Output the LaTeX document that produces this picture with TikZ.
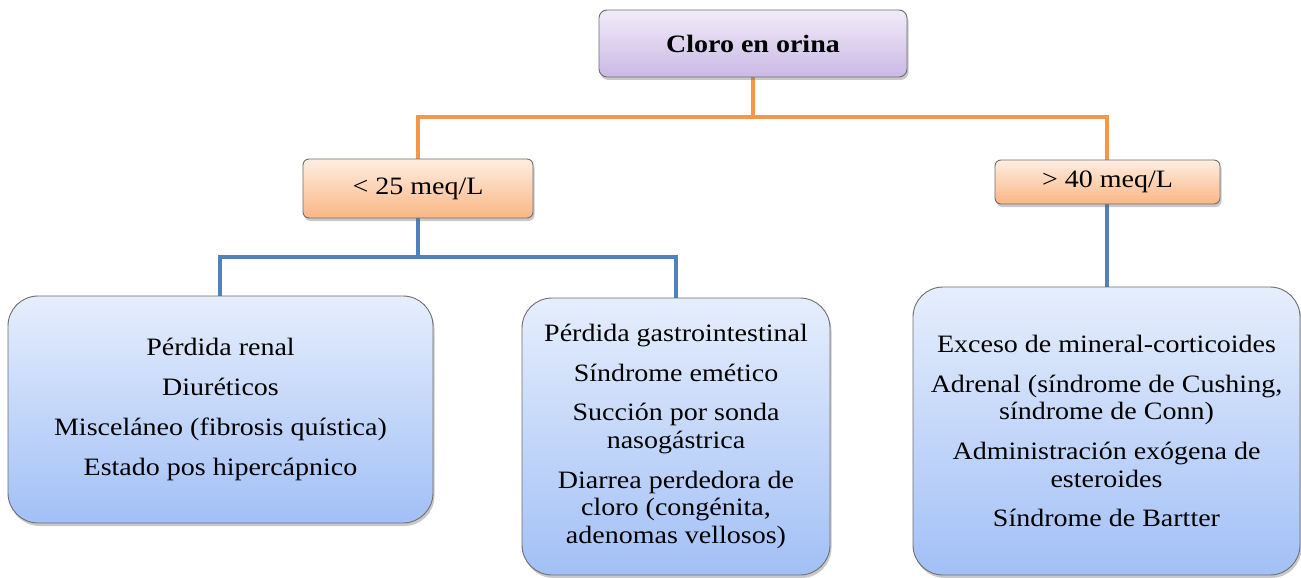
\documentclass[tikz,border=0pt]{standalone}
\usepackage{fontspec}
\setmainfont{Liberation Serif}[FakeStretch=1.12]
\usetikzlibrary{shadows}
\definecolor{oline}{HTML}{F79646}
\definecolor{bline}{HTML}{4F81BD}
\definecolor{pTop}{HTML}{F1ECF8}
\definecolor{pBot}{HTML}{CBB8E6}
\definecolor{oTop}{HTML}{FEEEE2}
\definecolor{oBot}{HTML}{F9B684}
\definecolor{bTop}{HTML}{E6EEFC}
\definecolor{bBot}{HTML}{A2C0F6}
\definecolor{edge}{HTML}{6E6E6E}
\tikzset{
  boxbase/.style={draw=edge, line width=0.9pt, inner sep=0pt, align=center,
    font=\fontsize{25}{27.7}\selectfont,
    drop shadow={shadow xshift=1.5pt, shadow yshift=-3pt, opacity=0.35, fill=black!60}},
  topbox/.style={boxbase, rounded corners=8pt, top color=pTop, bottom color=pBot},
  obox/.style={boxbase, rounded corners=6pt, top color=oTop, bottom color=oBot},
  bbox/.style={boxbase, rounded corners=30pt, top color=bTop, bottom color=bBot},
  oconn/.style={draw=oline, line width=4pt},
  bconn/.style={draw=bline, line width=4pt},
}
\newcommand{\gap}{\\[12pt]}
\begin{document}
\begin{tikzpicture}[x=1pt,y=-1pt]
\useasboundingbox (0,0) rectangle (1301,578);
\clip (0,0) rectangle (1301,578);
\fill[white] (0,0) rectangle (1301,578);
% connectors
\draw[oconn] (753,77) -- (753,117) -| (418,160);
\draw[oconn] (753,117) -| (1107,160);
\draw[bconn] (418,218) -- (418,257) -| (220,296);
\draw[bconn] (418,257) -| (676,298);
\draw[bconn] (1107,204) -- (1107,287);
% boxes
\node[topbox, minimum width=308pt, minimum height=67pt] (top) at (753,43.5) {\textbf{Cloro en orina}};
\node[obox, minimum width=230pt, minimum height=59pt] (lo) at (418,188.5) {< 25 meq/L};
\node[obox, minimum width=225pt, minimum height=44pt] (ro) at (1107.5,182) {> 40 meq/L};
\node[bbox, minimum width=425pt, minimum height=227pt] (b1) at (220.5,409.5)
  {Pérdida renal\gap Diuréticos\gap Misceláneo (fibrosis quística)\gap Estado pos hipercápnico};
\node[bbox, minimum width=308pt, minimum height=277pt] (b2) at (676,436.5)
  {Pérdida gastrointestinal\gap Síndrome emético\gap Succión por sonda\\ nasogástrica\gap Diarrea perdedora de\\ cloro (congénita,\\ adenomas vellosos)};
\node[bbox, minimum width=387pt, minimum height=288pt] (b3) at (1106.5,431)
  {Exceso de mineral-corticoides\gap Adrenal (síndrome de Cushing,\\ síndrome de Conn)\gap Administración exógena de\\ esteroides\gap Síndrome de Bartter};
\end{tikzpicture}
\end{document}
